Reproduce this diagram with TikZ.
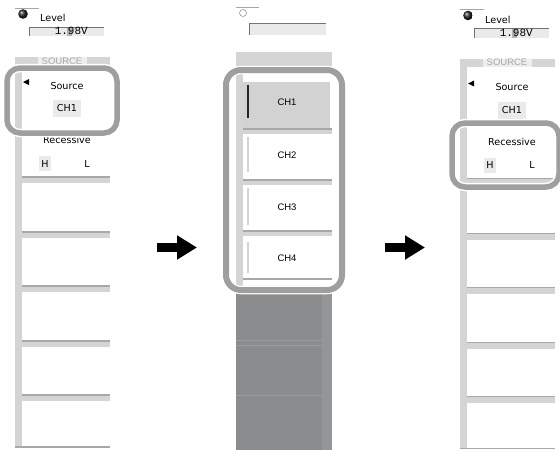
\documentclass[tikz,border=0pt]{standalone}
\usepackage{fontspec}
\setsansfont{DejaVu Sans}
\setmonofont{Liberation Mono}
\newfontfamily\listfont{Liberation Sans}
\usetikzlibrary{arrows.meta}

\definecolor{stripgray}{HTML}{D4D4D4}
\definecolor{sepgray}{HTML}{A8A8A8}
\definecolor{ringgray}{HTML}{9F9F9F}
\definecolor{boxgray}{HTML}{EAEAEA}
\definecolor{headgray}{HTML}{D5D5D5}
\definecolor{listdark}{HTML}{8B8C8E}
\definecolor{selgray}{HTML}{D2D2D2}

\tikzset{
  lbl/.style={font=\sffamily\fontsize{9.6}{11}\selectfont, inner sep=0pt},
  chlbl/.style={font=\listfont\fontsize{9.5}{11}\selectfont, inner sep=0pt},
  ring/.style={draw=ringgray, line width=5.5pt, rounded corners=13pt},
  halo/.style={draw=white, line width=8.5pt, rounded corners=13pt},
  sepline/.style={sepgray, line width=1.5pt},
  bigarrow/.style={line width=9pt, -{Triangle[length=20pt, width=23pt]}},
}

% one SOURCE menu, #1 = node prefix
\newcommand{\sourcemenu}[1]{%
  \draw[gray!70, line width=0.5pt] (15,8) -- (39,8);
  \shade[ball color=black!85] (23,14) circle (4.8);
  \node[lbl, anchor=base west] (#1level) at (40,21.5) {Level};
  \fill[boxgray] (29,27) rectangle (104,36);
  \draw[black!55, line width=0.6pt] (29,36) -- (29,27) -- (104,27);
  \fill[black!30] (67,27.5) rectangle (72,36);
  \node[font=\ttfamily\fontsize{11}{11}\selectfont, inner sep=0pt, anchor=base east] (#1value) at (88,34.5) {1.98V};
  % header
  \fill[headgray] (15,57) rectangle (110,65);
  \fill[white!60!headgray] (38,57) rectangle (87,65);
  \node[font=\listfont\fontsize{9.5}{10}\selectfont, inner sep=0pt, text=black!35] (#1head) at (62,61) {SOURCE};
  % strip and items
  \fill[stripgray] (15,65) rectangle (22,447);
  \fill[black] (23,82) -- (29,79) -- (29,85) -- cycle;
  \node[lbl] (#1source) at (67,86) {Source};
  \fill[boxgray] (53,100) rectangle (81,117);
  \node[lbl] (#1ch) at (67,108.5) {CH1};
  \node[lbl] (#1rec) at (67,140) {Recessive};
  \fill[boxgray] (39,156) rectangle (51,171);
  \node[lbl] (#1hi) at (45,163.5) {H};
  \node[lbl] (#1lo) at (87,163.5) {L};
  \foreach \y in {177,232,286,341,395} {
    \fill[stripgray] (22,\y) rectangle (110,\y+6);
    \draw[sepline] (22,\y) -- (110,\y);
  }
  \draw[sepline] (15,447) -- (110,447);
}

\begin{document}
\begin{tikzpicture}[x=1pt,y=-1pt]
  \useasboundingbox (0,0) rectangle (560,450);

  % left menu
  \sourcemenu{l}
  \draw[halo] (7,68) rectangle (117,133);
  \draw[ring] (7,68) rectangle (117,133);

  % channel list
  \draw[gray!70, line width=0.5pt] (236,7) -- (259,7);
  \draw[gray!80, line width=0.6pt] (243,13) circle (3.5);
  \fill[boxgray] (249,23) rectangle (326,35);
  \draw[black!55, line width=0.6pt] (249,35) -- (249,23) -- (326,23);
  \fill[headgray] (236,52) rectangle (332,68);
  \fill[stripgray] (236,70) rectangle (243,290);
  \fill[selgray] (243,82) rectangle (330,129);
  \foreach \y in {129,180,231} {
    \fill[stripgray] (243,\y) rectangle (332,\y+5);
    \draw[sepline] (243,\y) -- (332,\y);
  }
  \draw[sepline] (243,279) -- (332,279);
  \draw[black!85, line width=1.5pt] (248,85) -- (248,118);
  \draw[stripgray, line width=1.2pt] (248,137) -- (248,172);
  \draw[stripgray, line width=1.2pt] (248,188) -- (248,225);
  \draw[stripgray, line width=1.2pt] (248,242) -- (248,273);
  \node[chlbl] (ch1) at (287,102) {CH1};
  \node[chlbl] (ch2) at (287,155) {CH2};
  \node[chlbl] (ch3) at (287,207) {CH3};
  \node[chlbl] (ch4) at (287,258) {CH4};
  \fill[listdark] (236,290) rectangle (332,450);
  \fill[listdark!92!white] (322,290) rectangle (332,450);
  \foreach \y in {340,345,395}
    \draw[listdark!85!white, line width=0.4pt] (236,\y) -- (322,\y);
  \draw[halo, rounded corners=15pt] (226,70) rectangle (342,290);
  \draw[ring, line width=6pt, rounded corners=15pt] (226,70) rectangle (342,290);

  % right menu
  \begin{scope}[shift={(445,1.5)}]
    \sourcemenu{r}
  \end{scope}
  \draw[halo] (452,123) rectangle (559,187);
  \draw[ring] (452,123) rectangle (559,187);

  % arrows
  \coordinate (a1s) at (157,247.5);
  \coordinate (a1e) at (197,247.5);
  \coordinate (a2s) at (385,247.5);
  \coordinate (a2e) at (425,247.5);
  \draw[bigarrow] (a1s) -- (a1e);
  \draw[bigarrow] (a2s) -- (a2e);
\end{tikzpicture}
\end{document}
